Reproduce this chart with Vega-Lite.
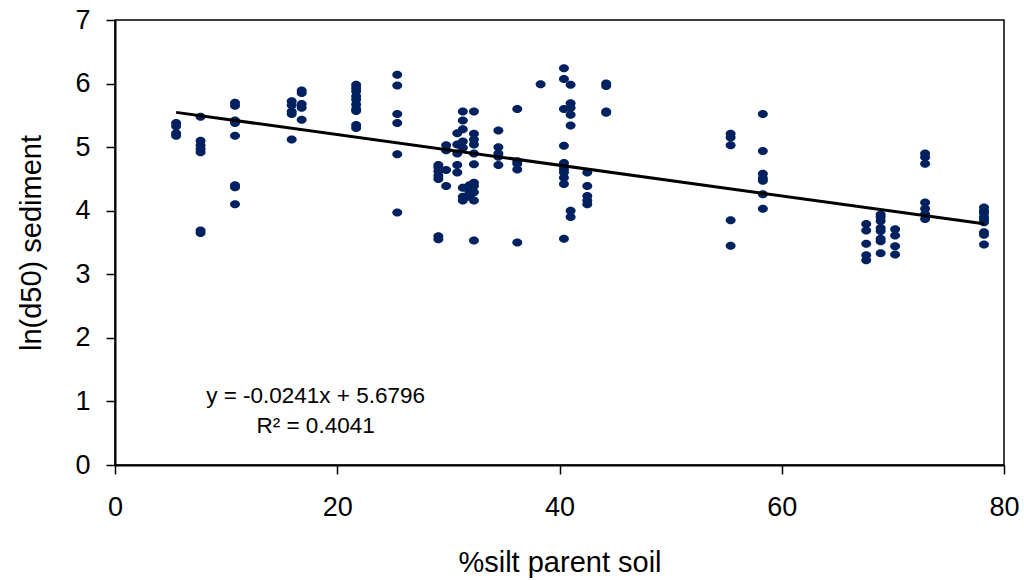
{
  "$schema": "https://vega.github.io/schema/vega-lite/v6.json",
  "width": 889,
  "height": 445,
  "autosize": {"type": "none"},
  "padding": {"left": 115, "top": 20, "right": 20, "bottom": 115},
  "background": "white",
  "config": {
    "font": "Liberation Sans",
    "view": {"stroke": "black", "strokeWidth": 1.5},
    "axis": {
      "domainColor": "black",
      "domainWidth": 2,
      "tickColor": "black",
      "tickWidth": 1.5,
      "tickSize": 9,
      "grid": false,
      "labelFont": "Liberation Sans",
      "labelFontSize": 27,
      "labelColor": "black",
      "titleFont": "Liberation Sans",
      "titleFontSize": 29,
      "titleFontWeight": "normal",
      "titleColor": "black"
    }
  },
  "datasets": {
    "pts": [
      {"silt": 5.5, "lnd50": 5.38}, {"silt": 5.5, "lnd50": 5.33}, {"silt": 5.5, "lnd50": 5.22}, {"silt": 5.5, "lnd50": 5.18},
      {"silt": 7.7, "lnd50": 5.48}, {"silt": 7.7, "lnd50": 5.1}, {"silt": 7.7, "lnd50": 5.03}, {"silt": 7.7, "lnd50": 4.97}, {"silt": 7.7, "lnd50": 4.92}, {"silt": 7.7, "lnd50": 3.69}, {"silt": 7.7, "lnd50": 3.65},
      {"silt": 10.8, "lnd50": 5.7}, {"silt": 10.8, "lnd50": 5.65}, {"silt": 10.8, "lnd50": 5.42}, {"silt": 10.8, "lnd50": 5.38}, {"silt": 10.8, "lnd50": 5.18}, {"silt": 10.8, "lnd50": 4.4}, {"silt": 10.8, "lnd50": 4.37}, {"silt": 10.8, "lnd50": 4.1},
      {"silt": 15.9, "lnd50": 5.72}, {"silt": 15.9, "lnd50": 5.66}, {"silt": 15.9, "lnd50": 5.56}, {"silt": 15.9, "lnd50": 5.52}, {"silt": 15.9, "lnd50": 5.12},
      {"silt": 16.8, "lnd50": 5.89}, {"silt": 16.8, "lnd50": 5.85}, {"silt": 16.8, "lnd50": 5.68}, {"silt": 16.8, "lnd50": 5.62}, {"silt": 16.8, "lnd50": 5.43},
      {"silt": 21.7, "lnd50": 5.98}, {"silt": 21.7, "lnd50": 5.93}, {"silt": 21.7, "lnd50": 5.88}, {"silt": 21.7, "lnd50": 5.8}, {"silt": 21.7, "lnd50": 5.75}, {"silt": 21.7, "lnd50": 5.67}, {"silt": 21.7, "lnd50": 5.6}, {"silt": 21.7, "lnd50": 5.57}, {"silt": 21.7, "lnd50": 5.35}, {"silt": 21.7, "lnd50": 5.3},
      {"silt": 25.4, "lnd50": 6.14}, {"silt": 25.4, "lnd50": 5.97}, {"silt": 25.4, "lnd50": 5.52}, {"silt": 25.4, "lnd50": 5.38}, {"silt": 25.4, "lnd50": 4.89}, {"silt": 25.4, "lnd50": 3.97},
      {"silt": 29.1, "lnd50": 4.72}, {"silt": 29.1, "lnd50": 4.68}, {"silt": 29.1, "lnd50": 4.62}, {"silt": 29.1, "lnd50": 4.55}, {"silt": 29.1, "lnd50": 4.5}, {"silt": 29.1, "lnd50": 3.6}, {"silt": 29.1, "lnd50": 3.55},
      {"silt": 29.8, "lnd50": 5.03}, {"silt": 29.8, "lnd50": 4.95}, {"silt": 29.8, "lnd50": 4.64}, {"silt": 29.8, "lnd50": 4.39},
      {"silt": 30.8, "lnd50": 5.22}, {"silt": 30.8, "lnd50": 5.04}, {"silt": 30.8, "lnd50": 4.9}, {"silt": 30.8, "lnd50": 4.72}, {"silt": 30.8, "lnd50": 4.6},
      {"silt": 31.3, "lnd50": 5.56}, {"silt": 31.3, "lnd50": 5.42}, {"silt": 31.3, "lnd50": 5.28}, {"silt": 31.3, "lnd50": 5.09}, {"silt": 31.3, "lnd50": 4.99}, {"silt": 31.3, "lnd50": 4.36}, {"silt": 31.3, "lnd50": 4.22}, {"silt": 31.3, "lnd50": 4.16},
      {"silt": 31.9, "lnd50": 4.4}, {"silt": 31.9, "lnd50": 4.3}, {"silt": 31.9, "lnd50": 4.22},
      {"silt": 32.3, "lnd50": 5.56}, {"silt": 32.3, "lnd50": 5.21}, {"silt": 32.3, "lnd50": 5.12}, {"silt": 32.3, "lnd50": 5.04}, {"silt": 32.3, "lnd50": 4.9}, {"silt": 32.3, "lnd50": 4.73}, {"silt": 32.3, "lnd50": 4.44}, {"silt": 32.3, "lnd50": 4.39}, {"silt": 32.3, "lnd50": 4.29}, {"silt": 32.3, "lnd50": 4.16}, {"silt": 32.3, "lnd50": 3.53},
      {"silt": 34.5, "lnd50": 5.26}, {"silt": 34.5, "lnd50": 5.0}, {"silt": 34.5, "lnd50": 4.9}, {"silt": 34.5, "lnd50": 4.85}, {"silt": 34.5, "lnd50": 4.72},
      {"silt": 36.2, "lnd50": 5.6}, {"silt": 36.2, "lnd50": 4.78}, {"silt": 36.2, "lnd50": 4.74}, {"silt": 36.2, "lnd50": 4.65}, {"silt": 36.2, "lnd50": 3.5},
      {"silt": 38.3, "lnd50": 5.99},
      {"silt": 40.4, "lnd50": 6.24}, {"silt": 40.4, "lnd50": 6.07}, {"silt": 40.4, "lnd50": 5.6}, {"silt": 40.4, "lnd50": 5.02}, {"silt": 40.4, "lnd50": 4.75}, {"silt": 40.4, "lnd50": 4.7}, {"silt": 40.4, "lnd50": 4.65}, {"silt": 40.4, "lnd50": 4.6}, {"silt": 40.4, "lnd50": 4.52}, {"silt": 40.4, "lnd50": 4.42}, {"silt": 40.4, "lnd50": 3.56},
      {"silt": 41.0, "lnd50": 5.98}, {"silt": 41.0, "lnd50": 5.69}, {"silt": 41.0, "lnd50": 5.62}, {"silt": 41.0, "lnd50": 5.51}, {"silt": 41.0, "lnd50": 5.34}, {"silt": 41.0, "lnd50": 4.0}, {"silt": 41.0, "lnd50": 3.9},
      {"silt": 42.5, "lnd50": 4.6}, {"silt": 42.5, "lnd50": 4.39}, {"silt": 42.5, "lnd50": 4.23}, {"silt": 42.5, "lnd50": 4.16}, {"silt": 42.5, "lnd50": 4.1},
      {"silt": 44.2, "lnd50": 6.0}, {"silt": 44.2, "lnd50": 5.96}, {"silt": 44.2, "lnd50": 5.56}, {"silt": 44.2, "lnd50": 5.54},
      {"silt": 55.4, "lnd50": 5.21}, {"silt": 55.4, "lnd50": 5.15}, {"silt": 55.4, "lnd50": 5.03}, {"silt": 55.4, "lnd50": 3.85}, {"silt": 55.4, "lnd50": 3.45},
      {"silt": 58.3, "lnd50": 5.52}, {"silt": 58.3, "lnd50": 4.94}, {"silt": 58.3, "lnd50": 4.58}, {"silt": 58.3, "lnd50": 4.51}, {"silt": 58.3, "lnd50": 4.47}, {"silt": 58.3, "lnd50": 4.26}, {"silt": 58.3, "lnd50": 4.03},
      {"silt": 67.6, "lnd50": 3.79}, {"silt": 67.6, "lnd50": 3.69}, {"silt": 67.6, "lnd50": 3.48}, {"silt": 67.6, "lnd50": 3.3}, {"silt": 67.6, "lnd50": 3.22},
      {"silt": 68.9, "lnd50": 3.94}, {"silt": 68.9, "lnd50": 3.9}, {"silt": 68.9, "lnd50": 3.84}, {"silt": 68.9, "lnd50": 3.73}, {"silt": 68.9, "lnd50": 3.68}, {"silt": 68.9, "lnd50": 3.56}, {"silt": 68.9, "lnd50": 3.52}, {"silt": 68.9, "lnd50": 3.33},
      {"silt": 70.2, "lnd50": 3.71}, {"silt": 70.2, "lnd50": 3.61}, {"silt": 70.2, "lnd50": 3.44}, {"silt": 70.2, "lnd50": 3.31},
      {"silt": 72.9, "lnd50": 4.9}, {"silt": 72.9, "lnd50": 4.84}, {"silt": 72.9, "lnd50": 4.74}, {"silt": 72.9, "lnd50": 4.13}, {"silt": 72.9, "lnd50": 4.03}, {"silt": 72.9, "lnd50": 3.95}, {"silt": 72.9, "lnd50": 3.87},
      {"silt": 78.2, "lnd50": 4.05}, {"silt": 78.2, "lnd50": 4.0}, {"silt": 78.2, "lnd50": 3.96}, {"silt": 78.2, "lnd50": 3.9}, {"silt": 78.2, "lnd50": 3.86}, {"silt": 78.2, "lnd50": 3.82}, {"silt": 78.2, "lnd50": 3.66}, {"silt": 78.2, "lnd50": 3.62}, {"silt": 78.2, "lnd50": 3.47}
    ],
    "trend": [
      {"silt": 5.5, "lnd50": 5.547},
      {"silt": 78.2, "lnd50": 3.795}
    ],
    "labels": [
      {"silt": 18.05, "lnd50": 0.97, "text": "y = -0.0241x  + 5.6796"},
      {"silt": 18.05, "lnd50": 0.5, "text": "R² = 0.4041"}
    ]
  },
  "encoding": {
    "x": {
      "field": "silt",
      "type": "quantitative",
      "scale": {"domain": [0, 80], "nice": false, "zero": false},
      "axis": {"values": [0, 20, 40, 60, 80], "title": "%silt parent soil", "labelPadding": 20, "titlePadding": 28, "labelFlush": false}
    },
    "y": {
      "field": "lnd50",
      "type": "quantitative",
      "scale": {"domain": [0, 7], "nice": false, "zero": false},
      "axis": {"values": [0, 1, 2, 3, 4, 5, 6, 7], "title": "ln(d50) sediment", "labelPadding": 16, "titlePadding": 28, "labelFlush": false}
    }
  },
  "layer": [
    {
      "data": {"name": "pts"},
      "mark": {
        "type": "point",
        "shape": "M-1,0A1,0.8,0,1,0,1,0A1,0.8,0,1,0,-1,0Z",
        "filled": true,
        "size": 100,
        "color": "#00215f",
        "opacity": 1
      }
    },
    {
      "data": {"name": "trend"},
      "mark": {"type": "line", "color": "black", "strokeWidth": 3}
    },
    {
      "data": {"name": "labels"},
      "mark": {"type": "text", "fontSize": 22.5, "font": "Liberation Sans", "color": "black", "align": "center", "baseline": "alphabetic"},
      "encoding": {"text": {"field": "text"}}
    }
  ]
}
